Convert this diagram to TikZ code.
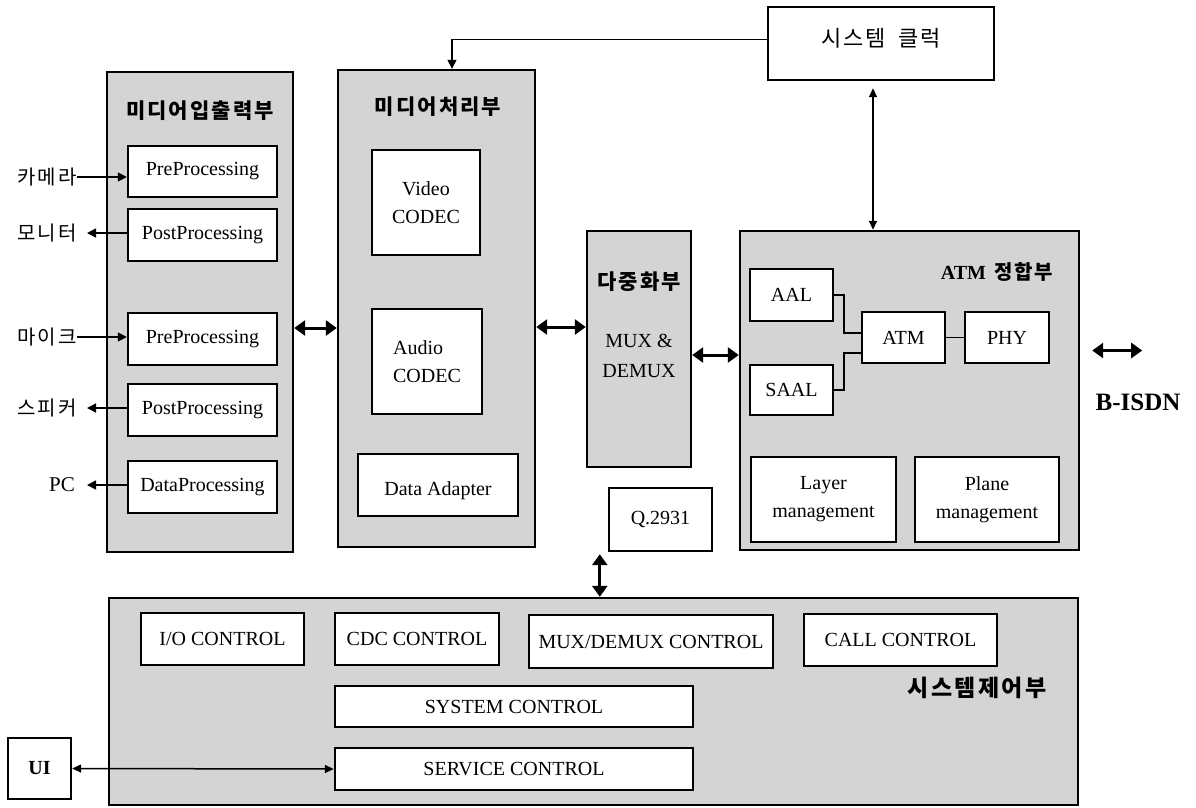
\documentclass[tikz,border=0pt]{standalone}
\usepackage{fontspec}
\setmainfont{Liberation Serif}
\newfontfamily\kr{Noto Sans CJK KR}[LetterSpace=10]
\usetikzlibrary{arrows.meta, positioning}

\tikzset{
  unit/.style={draw, line width=2.4pt, fill=black!17, inner sep=0pt},
  blk/.style={draw, line width=2.4pt, fill=white, inner sep=0pt, align=center,
    font=\fontsize{20}{28}\selectfont},
  ttl/.style={font=\kr\bfseries\fontsize{21}{24}\selectfont, inner sep=0pt},
  io/.style={font=\kr\fontsize{20}{24}\selectfont, anchor=east, inner sep=0pt},
  bus/.style={line width=3pt, {Triangle[length=11pt,width=15pt]}-{Triangle[length=11pt,width=15pt]}},
  sig/.style={line width=1.5pt, -{Triangle[length=9pt,width=9pt]}},
  dbl/.style={line width=1.5pt, {Triangle[length=9pt,width=8pt]}-{Triangle[length=9pt,width=8pt]}},
}

\begin{document}
\begin{tikzpicture}[x=1pt, y=-1pt]
  \useasboundingbox (0,0) rectangle (1196,807);

  % system clock
  \node[blk, minimum width=226, minimum height=73] (clk) at (881,43.5) {};
  \node[font=\kr\fontsize{22}{24}\selectfont, inner sep=0pt] at ([yshift=5pt]clk.center) {시스템\hspace{12pt}클럭};

  % media in/out unit
  \node[unit, minimum width=186, minimum height=480] (mio) at (200,312) {};
  \node[ttl] at (200,111) {미디어입출력부};
  \node[blk, minimum width=149, minimum height=51] (pre1) at (202.5,171.5) {PreProcessing};
  \node[blk, minimum width=149, minimum height=52] (post1) at (202.5,235) {PostProcessing};
  \node[blk, minimum width=149, minimum height=52] (pre2) at (202.5,339) {PreProcessing};
  \node[blk, minimum width=149, minimum height=52] (post2) at (202.5,410) {PostProcessing};
  \node[blk, minimum width=149, minimum height=52] (dproc) at (202.5,487) {DataProcessing};

  \node[io] (cam) at (77,177) {카메라};
  \node[io] (mon) at (77,233) {모니터};
  \node[io] (mic) at (77,337) {마이크};
  \node[io] (spk) at (77,408) {스피커};
  \node[io, font=\fontsize{21}{24}\selectfont] (pc) at (75,485) {PC};

  \draw[sig] (cam.east) -- (cam.east -| pre1.west);
  \draw[sig, shorten >=10pt] (mon.east -| post1.west) -- (mon.east);
  \draw[sig] (mic.east) -- (mic.east -| pre2.west);
  \draw[sig, shorten >=10pt] (spk.east -| post2.west) -- (spk.east);
  \draw[sig, shorten >=12pt] (pc.east -| dproc.west) -- (pc.east);

  % media processing unit
  \node[unit, minimum width=197, minimum height=477] (mproc) at (436.5,308.5) {};
  \node[ttl] at (438,107) {미디어처리부};
  \node[blk, minimum width=108, minimum height=105] (vcodec) at (426,202.5) {Video\\CODEC};
  \node[blk, minimum width=110, minimum height=105, align=left] (acodec) at (427,361.5) {Audio\\CODEC};
  \node[blk, minimum width=160, minimum height=62] (adapter) at (438,485) {};
  \node[font=\fontsize{20}{24}\selectfont, inner sep=0pt] at ([yshift=-6pt]adapter.center) {Data Adapter};

  % multiplexer
  \node[unit, minimum width=104, minimum height=236] (mux) at (639,349) {};
  \node[ttl] at (639,282) {다중화부};
  \node[align=center, font=\fontsize{20}{30}\selectfont, inner sep=0pt] at (639,356) {MUX \&\\DEMUX};
  \node[blk, minimum width=103, minimum height=63] (q2931) at (660.5,519.5) {Q.2931};

  % ATM adaptation unit
  \node[unit, minimum width=339, minimum height=319] (atmif) at (909.5,390.5) {};
  \node[inner sep=0pt] at (997,272) {\fontsize{20}{24}\selectfont\bfseries ATM\hspace{8pt}{\kr 정합부}};
  \node[blk, minimum width=83, minimum height=52] (aal) at (791.5,295) {AAL};
  \node[blk, minimum width=83, minimum height=50] (saal) at (791.5,390) {SAAL};
  \node[blk, minimum width=83, minimum height=51] (atm) at (903.5,337.5) {ATM};
  \node[blk, minimum width=84, minimum height=51] (phy) at (1007,337.5) {PHY};
  \node[blk, minimum width=145, minimum height=85] (lmgmt) at (823.5,499.5) {Layer\\management};
  \node[blk, minimum width=144, minimum height=85] (pmgmt) at (987,499.5) {Plane\\management};

  \draw[line width=1.5pt] (aal.east) -- ++(10,0) |- ([yshift=4.5pt]atm.west);
  \draw[line width=1.5pt] (saal.east) -- ++(10,0) |- ([yshift=-15.5pt]atm.west);
  \draw[line width=1.5pt] (atm) -- (phy);

  \node[font=\fontsize{25}{28}\selectfont\bfseries, inner sep=0pt] (bisdn) at (1138,402) {B-ISDN};
  \draw[bus] ([shift={(12pt,40pt)}]atmif.east) -- ++(50,0);

  % system control unit
  \node[unit, minimum width=969, minimum height=207] (sysctl) at (593.5,701.5) {};
  \node[ttl, font=\kr\bfseries\fontsize{23}{26}\selectfont] at (977,688) {시스템제어부};
  \node[blk, minimum width=163, minimum height=52] (ioc) at (222.5,639) {I/O CONTROL};
  \node[blk, minimum width=164, minimum height=52] (cdc) at (417,639) {CDC CONTROL};
  \node[blk, minimum width=244, minimum height=53] (muxc) at (651,641.5) {MUX/DEMUX CONTROL};
  \node[blk, minimum width=193, minimum height=52] (call) at (900.5,640) {CALL CONTROL};
  \node[blk, minimum width=358, minimum height=41] (sysc) at (514,706.5) {SYSTEM CONTROL};
  \node[blk, minimum width=358, minimum height=42] (svc) at (514,769) {SERVICE CONTROL};
  \node[blk, minimum width=63, minimum height=61, font=\fontsize{20}{24}\selectfont\bfseries] (ui) at (39.5,768.5) {UI};

  % connections
  \draw[sig] ([yshift=4pt]clk.west) -| ([xshift=15.5pt]mproc.north);
  \draw[dbl, shorten <=7pt] ([xshift=-8pt]clk.south) -- ([xshift=-8pt]clk.south |- atmif.north);
  \draw[bus] ([yshift=-16pt]mio.east) -- ([yshift=-16pt]mio.east -| mproc.west);
  \draw[bus] ([yshift=-18.5pt]mproc.east) -- ([yshift=-18.5pt]mproc.east -| mux.west);
  \draw[bus] ([yshift=-6pt]mux.east) -- ([yshift=-6pt]mux.east -| atmif.west);
  \draw[bus, shorten <=2pt] ([xshift=-8pt]q2931.south west) -- ([xshift=-8pt]q2931.south west |- sysctl.north);
  \draw[dbl] (ui.east) -- (svc.west);
\end{tikzpicture}
\end{document}
